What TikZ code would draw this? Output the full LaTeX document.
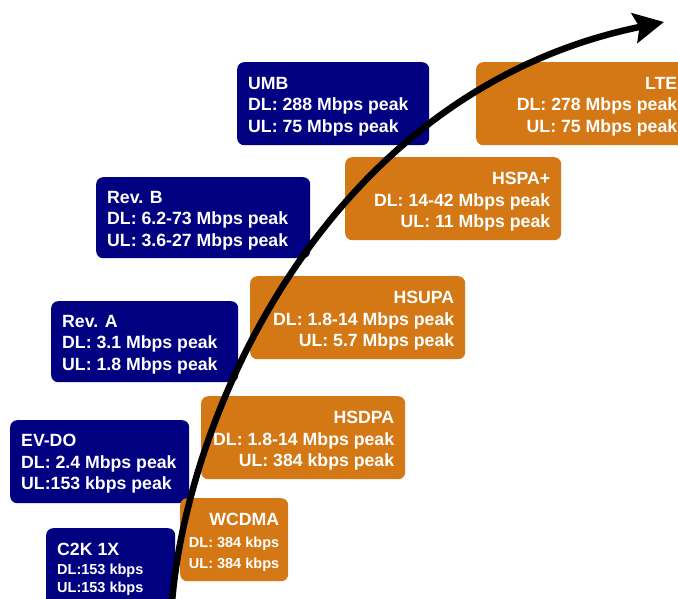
\documentclass[tikz,border=0pt]{standalone}
\usepackage{fontspec}
\setmainfont{Liberation Sans}
\usetikzlibrary{arrows.meta}
\definecolor{cdmanavy}{RGB}{0,0,128}
\definecolor{umtsorange}{RGB}{212,120,22}
\newcommand{\sml}{\fontsize{14.5}{18}\selectfont}
\tikzset{
  navybox/.style={fill=cdmanavy, rounded corners=7pt, anchor=north west, inner sep=0pt},
  orangebox/.style={fill=umtsorange, rounded corners=7pt, anchor=north west, inner sep=0pt},
  ltxt/.style={text=white, font=\bfseries\fontsize{17.7}{21.5}\selectfont, align=left, anchor=west, inner sep=0pt},
  rtxt/.style={text=white, font=\bfseries\fontsize{17.7}{21.5}\selectfont, align=right, anchor=east, inner sep=0pt},
  evo/.style={line width=6.5pt, -{Stealth[length=30pt,width=30pt,inset=5pt]}}
}
\begin{document}
\begin{tikzpicture}[x=1pt,y=-1pt]
\useasboundingbox (0,0) rectangle (678,598);
\clip (0,0) rectangle (678,598);
% CDMA family (navy)
\node[navybox, minimum width=192pt, minimum height=83pt] (umb) at (237,62) {};
\node[ltxt] (umbt) at ([xshift=11pt,yshift=-3pt]umb.west) {UMB\\DL: 288 Mbps peak\\UL: 75 Mbps peak};
\node[navybox, minimum width=214pt, minimum height=81pt] (revb) at (96,177) {};
\node[ltxt] (revbt) at ([xshift=11pt,yshift=-3pt]revb.west) {Rev. B\\DL: 6.2-73 Mbps peak\\UL: 3.6-27 Mbps peak};
\node[navybox, minimum width=187pt, minimum height=81pt] (reva) at (51,301) {};
\node[ltxt] (revat) at ([xshift=11pt,yshift=-3pt]reva.west) {Rev. A\\DL: 3.1 Mbps peak\\UL: 1.8 Mbps peak};
\node[navybox, minimum width=179pt, minimum height=83pt] (evdo) at (10,420) {};
\node[ltxt] (evdot) at ([xshift=11pt,yshift=-2pt]evdo.west) {EV-DO\\DL: 2.4 Mbps peak\\UL:153 kbps peak};
\node[navybox, minimum width=129pt, minimum height=83pt] (ctwok) at (46,528) {};
\node[ltxt] (ctwokt) at ([xshift=11pt,yshift=0pt]ctwok.west) {C2K 1X\\[-3pt]{\sml DL:153 kbps}\\[-3pt]{\sml UL:153 kbps}};
% UMTS family (orange)
\node[orangebox, minimum width=212pt, minimum height=83pt] (lte) at (476,62) {};
\node[rtxt] (ltet) at ([xshift=-11pt,yshift=-3pt]lte.east) {LTE\\DL: 278 Mbps peak\\UL: 75 Mbps peak};
\node[orangebox, minimum width=216pt, minimum height=83pt] (hspap) at (345,157) {};
\node[rtxt] (hspapt) at ([xshift=-11pt,yshift=-3pt]hspap.east) {HSPA+\\DL: 14-42 Mbps peak\\UL: 11 Mbps peak};
\node[orangebox, minimum width=215pt, minimum height=83pt] (hsupa) at (250,276) {};
\node[rtxt] (hsupat) at ([xshift=-11pt,yshift=-3pt]hsupa.east) {HSUPA\\DL: 1.8-14 Mbps peak\\UL: 5.7 Mbps peak};
\node[orangebox, minimum width=204pt, minimum height=83pt] (hsdpa) at (201,396) {};
\node[rtxt] (hsdpat) at ([xshift=-11pt,yshift=-3pt]hsdpa.east) {HSDPA\\DL: 1.8-14 Mbps peak\\UL: 384 kbps peak};
\node[orangebox, minimum width=108pt, minimum height=83pt] (wcdma) at (180,498) {};
\node[rtxt] (wcdmat) at ([xshift=-9pt,yshift=-3pt]wcdma.east) {WCDMA\\{\sml DL: 384 kbps}\\{\sml UL: 384 kbps}};
% evolution arrow
\coordinate (evstart) at (172,602);
\coordinate (evend) at (664,22);
\draw[evo] (evstart) .. controls (188,410) and (330,90) .. (evend);
\end{tikzpicture}
\end{document}
